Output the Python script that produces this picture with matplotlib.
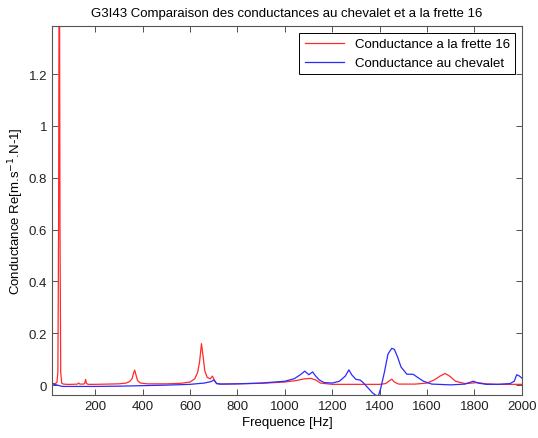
import matplotlib
matplotlib.use('Agg')
from matplotlib import pyplot as plt

plt.rcParams['font.family'] = ['Liberation Sans', 'DejaVu Sans']
plt.rcParams['font.size'] = 9.5

# Conductance a la frette 16
freq_frette = [20, 30, 38, 42, 45, 48, 51, 54, 58, 65, 80, 100, 125, 130, 135, 150, 155, 159, 163, 170,
               200, 250, 300, 330, 345, 355, 362, 366, 370, 378, 390, 420, 500, 560, 600, 620, 632,
               640, 648, 655, 662, 672, 685, 694, 702, 712, 730, 800, 900, 1000, 1050, 1080, 1110,
               1130, 1150, 1200, 1300, 1400, 1425, 1440, 1451, 1462, 1480, 1550, 1600, 1630, 1655,
               1676, 1695, 1720, 1760, 1790, 1810, 1850, 1900, 2000]
cond_frette = [0.006, 0.006, 0.01, 0.05, 0.6, 2.0, 0.6, 0.05, 0.008, 0.004, 0.003, 0.003, 0.004, 0.008,
               0.004, 0.004, 0.006, 0.022, 0.006, 0.003, 0.003, 0.004, 0.005, 0.008, 0.014, 0.025,
               0.048, 0.058, 0.045, 0.018, 0.008, 0.005, 0.005, 0.007, 0.012, 0.025, 0.05, 0.09, 0.16,
               0.11, 0.055, 0.03, 0.024, 0.035, 0.02, 0.006, 0.004, 0.005, 0.007, 0.012, 0.018,
               0.024, 0.026, 0.02, 0.008, 0.003, 0.003, 0.003, 0.006, 0.016, 0.023, 0.012, 0.004,
               0.004, 0.008, 0.02, 0.035, 0.045, 0.035, 0.015, 0.006, 0.008, 0.01, 0.005, 0.003, 0.003]

# Conductance au chevalet
freq_chevalet = [20, 40, 60, 100, 200, 300, 400, 500, 600, 660, 690, 700, 712, 730, 800, 900, 1000,
                 1040, 1065, 1084, 1101, 1117, 1130, 1145, 1165, 1200, 1230, 1255, 1270, 1282, 1300,
                 1317, 1330, 1350, 1370, 1385, 1395, 1405, 1420, 1435, 1451, 1462, 1475, 1490, 1515,
                 1541, 1560, 1585, 1620, 1700, 1760, 1795, 1815, 1850, 1900, 1950, 1968, 1978, 1990, 2000]
cond_chevalet = [0.005, 0.0, -0.005, -0.005, -0.005, -0.004, -0.002, 0.0, 0.003, 0.008, 0.014, 0.02,
                 0.006, 0.004, 0.005, 0.008, 0.015, 0.025, 0.04, 0.054, 0.04, 0.051, 0.035, 0.02, 0.01,
                 0.008, 0.015, 0.035, 0.059, 0.04, 0.022, 0.02, 0.01, -0.01, -0.03, -0.04, -0.04,
                 -0.01, 0.05, 0.12, 0.142, 0.138, 0.11, 0.07, 0.042, 0.042, 0.03, 0.015, 0.004,
                 0.001, 0.004, 0.015, 0.008, 0.003, 0.003, 0.006, 0.015, 0.04, 0.035, 0.027]

fig = plt.figure(figsize=(5.38, 4.39), dpi=100)
ax = fig.add_axes([0.097, 0.098, 0.873, 0.840])

ax.plot(freq_frette, cond_frette, color='#ff2a2a', lw=0.9, label='Conductance a la frette 16')
ax.plot(freq_chevalet, cond_chevalet, color='#2a2aff', lw=0.9, label='Conductance au chevalet')

ax.set_xlim(18, 2000)
ax.set_ylim(-0.038, 1.385)
ax.set_xticks(range(200, 2001, 200))
ax.set_yticks([0, 0.2, 0.4, 0.6, 0.8, 1, 1.2])
ax.set_yticklabels(['0', '0.2', '0.4', '0.6', '0.8', '1', '1.2'])
ax.tick_params(direction='in', top=True, right=True, length=4, width=0.6, colors='#333333',
               labelcolor='#222222', labelsize=9.5)
for s in ax.spines.values():
    s.set_color('#555555')
    s.set_linewidth(0.8)

ax.set_xlabel('Frequence [Hz]', labelpad=3)
ax.set_ylabel(r'Conductance Re[m.s$^{-1}$.N-1]', labelpad=2)
ax.set_title('G3I43 Comparaison des conductances au chevalet et a la frette 16', fontsize=9.5, pad=7)

leg = ax.legend(loc='upper right', fancybox=False, framealpha=1, borderaxespad=0.5,
                handlelength=3, fontsize=9.5)
leg.get_frame().set_edgecolor('black')
leg.get_frame().set_linewidth(0.7)

plt.savefig('out.png', dpi=100)
